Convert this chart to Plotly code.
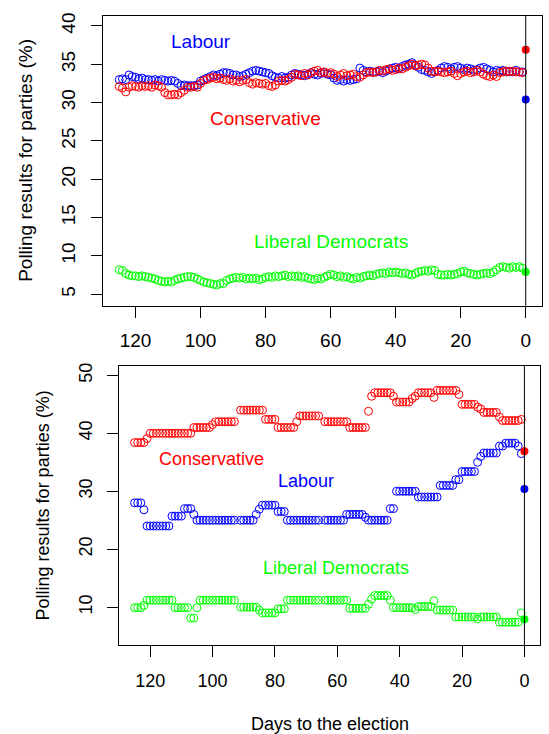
import plotly.graph_objects as go

FONT = "Liberation Sans, Arial, sans-serif"

# ---------------- data: top panel (days 125 .. 1) ----------------
top_days = list(range(125, 0, -1))
top_labour = [
    33.0, 33.1, 33.0, 33.6, 33.4, 33.3, 33.1, 33.2, 33.0, 33.0,
    32.9, 33.0, 32.8, 33.0, 32.9, 32.8, 32.9, 32.8, 32.5, 32.2,
    32.3, 32.2, 32.2, 32.2, 32.3, 32.8, 33.0, 33.2, 33.4, 33.6,
    33.5, 33.7, 33.9, 33.9, 33.8, 33.6, 33.6, 33.4, 33.5, 33.7,
    33.9, 34.1, 34.2, 34.1, 34.0, 33.9, 33.8, 33.5, 33.3, 33.2,
    33.4, 33.2, 33.3, 33.6, 33.8, 33.7, 33.6, 33.5, 33.7, 33.9,
    33.7, 33.6, 33.8, 33.9, 33.7, 33.6, 33.2, 32.9, 33.0, 32.8,
    33.0, 32.9, 33.0, 33.1, 34.5, 34.2, 34.0, 34.1, 34.0, 34.0,
    34.1, 33.9, 34.1, 34.3, 34.5, 34.6, 34.4, 34.7, 34.9, 35.0,
    35.2, 34.9, 34.6, 34.3, 34.2, 34.0, 33.8, 34.0, 34.2, 34.5,
    34.7, 34.6, 34.4, 34.6, 34.7, 34.5, 34.3, 34.5, 34.4, 34.2,
    34.3, 34.5, 34.6, 34.4, 34.2, 34.0, 34.2, 34.1, 34.2, 34.0,
    34.1, 34.0, 34.2, 34.0, 34.0,
]
top_conservative = [
    32.1, 31.9, 31.4, 32.0, 32.2, 32.1, 32.0, 32.2, 32.1, 32.2,
    32.0, 32.3, 32.2, 32.0, 31.3, 31.0, 31.0, 31.1, 31.0, 31.3,
    31.6, 32.0, 32.0, 32.1, 32.0, 32.5, 32.9, 33.0, 33.2, 33.3,
    33.1, 33.2, 33.0, 32.9, 33.1, 32.8, 32.9, 32.7, 32.9, 33.0,
    32.6, 32.4, 32.6, 32.5, 32.4, 32.5, 32.2, 32.1, 32.3, 32.8,
    32.9, 32.8, 33.0, 33.3, 33.7, 33.6, 33.5, 33.8, 33.6, 33.9,
    34.1, 34.2, 33.9, 34.0, 33.8, 33.9, 33.7, 33.4, 33.6, 33.8,
    33.5, 33.6, 33.7, 33.4, 33.3, 33.6, 33.9, 34.0, 33.9, 34.0,
    34.2, 34.1, 34.3, 34.4, 34.2, 34.3, 34.5, 34.4, 34.6, 34.8,
    35.0, 34.8, 34.9, 35.0, 34.9, 34.5, 34.1, 34.0, 34.1, 34.0,
    33.9, 34.0, 34.1, 33.8, 33.5, 33.8, 34.0, 34.1, 33.9, 34.0,
    34.2, 34.0, 33.7, 33.5, 33.4, 33.6, 33.4, 33.9, 34.0, 34.1,
    34.0, 34.1, 34.0, 34.0, 33.9,
]
top_libdem = [
    8.2, 8.1, 7.7, 7.5, 7.4, 7.4, 7.3, 7.4, 7.3, 7.2,
    7.1, 7.0, 6.8, 6.7, 6.6, 6.7, 6.6, 6.8, 7.0, 7.1,
    7.2, 7.3, 7.3, 7.2, 7.0, 6.8, 6.6, 6.5, 6.4, 6.3,
    6.2, 6.4, 6.4, 6.8, 7.0, 7.1, 7.2, 7.1, 7.2, 7.0,
    7.1, 7.0, 7.1, 6.9, 7.0, 7.2, 7.3, 7.2, 7.4, 7.3,
    7.4, 7.5, 7.3, 7.4, 7.3, 7.4, 7.2, 7.3, 7.1, 7.0,
    6.9, 7.1, 7.0, 7.2, 7.4, 7.6, 7.5, 7.3, 7.4, 7.2,
    7.3, 7.1, 7.0, 7.2, 7.1, 7.3, 7.4, 7.5, 7.4, 7.6,
    7.7, 7.8, 7.7, 7.9, 7.8, 7.9, 7.8, 7.7, 7.8, 7.6,
    7.5, 7.7, 7.9, 8.0, 8.1, 8.0, 8.2, 8.1, 7.6, 7.5,
    7.5, 7.6, 7.5, 7.6, 7.7, 7.9, 8.0, 7.8, 7.7, 7.6,
    7.5, 7.6, 7.7, 7.8, 7.7, 7.9, 8.2, 8.5, 8.6, 8.5,
    8.4, 8.6, 8.5, 8.6, 8.4,
]

# ---------------- data: bottom panel (days 125 .. 1, no polls on 92 and 65) ----------------
bot_days = [d for d in range(125, 0, -1) if d not in (92, 65)]
bot_conservative = [
    38.4, 38.4, 38.4, 38.4, 39.1,
    40.0, 40.0, 40.0, 40.0, 40.0, 40.0, 40.0, 40.0, 40.0, 40.0,
    40.0, 40.0, 40.0, 40.0, 41.0, 41.0, 41.0, 41.0, 41.0, 41.0,
    41.5, 42.0, 42.0, 42.0, 42.0, 42.0, 42.0, 42.0,
    44.0, 44.0, 44.0, 44.0, 44.0, 44.0, 44.0, 44.0, 42.4, 42.4,
    42.4, 42.4, 41.0, 41.0, 41.0, 41.0, 41.0, 41.0, 42.0, 43.0,
    43.0, 43.0, 43.0, 43.0, 43.0, 43.0,
    42.0, 42.0, 42.0, 42.0, 42.0, 42.0, 42.0, 42.0, 41.0, 41.0,
    41.0, 41.0, 41.0, 41.0, 43.8, 46.4, 47.0, 47.0, 47.0, 47.0,
    47.0, 47.0, 46.4, 45.4, 45.4, 45.4, 45.4, 45.4, 46.0, 46.4,
    47.0, 47.0, 47.0, 47.0, 47.0, 46.2, 47.4, 47.4, 47.4, 47.4,
    47.4, 47.4, 47.4, 46.7, 45.0, 45.0, 45.0, 45.0, 45.0, 44.5,
    44.2, 43.6, 43.6, 43.6, 43.6, 43.6, 42.8, 42.2, 42.2, 42.2,
    42.2, 42.2, 42.2, 42.4,
]
bot_labour = [
    28.0, 28.0, 28.0, 26.8, 24.0,
    24.0, 24.0, 24.0, 24.0, 24.0, 24.0, 24.0, 25.7, 25.7, 25.7,
    25.7, 27.0, 27.0, 27.0, 26.0, 25.0, 25.0, 25.0, 25.0, 25.0,
    25.0, 25.0, 25.0, 25.0, 25.0, 25.0, 25.0, 25.0,
    25.0, 25.0, 25.0, 25.0, 25.0, 26.0, 26.9, 27.6, 27.6, 27.6,
    27.6, 27.6, 26.5, 26.5, 26.5, 25.0, 25.0, 25.0, 25.0, 25.0,
    25.0, 25.0, 25.0, 25.0, 25.0, 25.0,
    25.0, 25.0, 25.0, 25.0, 25.0, 25.0, 25.0, 26.0, 26.0, 26.0,
    26.0, 26.0, 26.0, 25.5, 25.0, 25.0, 25.0, 25.0, 25.0, 25.0,
    25.0, 27.0, 27.0, 30.0, 30.0, 30.0, 30.0, 30.0, 30.0, 30.0,
    29.0, 29.0, 29.0, 29.0, 29.0, 29.0, 29.0, 31.0, 31.0, 31.0,
    31.0, 31.0, 32.0, 32.0, 33.4, 33.4, 33.4, 33.4, 33.4, 35.0,
    36.0, 36.6, 36.6, 36.6, 36.6, 36.6, 37.8, 37.8, 38.3, 38.3,
    38.3, 38.3, 37.8, 36.5,
]
bot_libdem = [
    9.9, 9.9, 9.9, 10.3, 11.2,
    11.2, 11.2, 11.2, 11.2, 11.2, 11.2, 11.2, 11.2, 9.9, 9.9,
    9.9, 9.9, 9.9, 8.1, 8.1, 9.9, 11.2, 11.2, 11.2, 11.2,
    11.2, 11.2, 11.2, 11.2, 11.2, 11.2, 11.2, 11.2,
    10.0, 10.0, 10.0, 10.0, 10.0, 10.0, 9.5, 9.0, 9.0, 9.0,
    9.0, 9.0, 9.7, 9.7, 9.7, 11.2, 11.2, 11.2, 11.2, 11.2,
    11.2, 11.2, 11.2, 11.2, 11.2, 11.2,
    11.2, 11.2, 11.2, 11.2, 11.2, 11.2, 11.2, 11.2, 9.8, 9.8,
    9.8, 9.8, 9.8, 9.8, 10.5, 11.4, 12.0, 12.0, 12.0, 12.0,
    12.0, 11.2, 9.9, 9.9, 9.9, 9.9, 9.9, 9.9, 9.9, 9.6,
    10.1, 10.1, 10.1, 10.1, 10.1, 11.1, 9.5, 9.5, 9.5, 9.5,
    9.5, 9.5, 8.3, 8.3, 8.3, 8.3, 8.3, 8.3, 8.3, 8.0,
    8.3, 8.3, 8.3, 8.3, 8.3, 8.3, 7.4, 7.4, 7.4, 7.4,
    7.4, 7.4, 7.4, 9.0,
]

# election result (day 0)
result_day = [0]
result_conservative = [36.9]
result_labour = [30.4]
result_libdem = [7.9]

party_names = ["Labour", "Conservative", "Liberal Democrats"]
party_colors = ["#0000ff", "#ff0000", "#00ff00"]

x_ticks = [0, 20, 40, 60, 80, 100, 120]
top_y_ticks = [5, 10, 15, 20, 25, 30, 35, 40]
bot_y_ticks = [10, 20, 30, 40, 50]

W, H = 549, 734

fig = go.Figure()

def add_panel(days, series, results, xa, ya):
    for vals, col in zip(series, party_colors):
        fig.add_trace(go.Scatter(
            x=days, y=vals, mode="markers", xaxis=xa, yaxis=ya,
            marker=dict(symbol="circle-open", size=8, color=col, line=dict(width=1)),
            hoverinfo="skip"))
    for vals, col in zip(results, party_colors):
        fig.add_trace(go.Scatter(
            x=result_day, y=vals, mode="markers", xaxis=xa, yaxis=ya,
            marker=dict(symbol="circle", size=8, color=col, line=dict(width=0)),
            hoverinfo="skip"))

add_panel(top_days, [top_labour, top_conservative, top_libdem],
          [result_labour, result_conservative, result_libdem], "x", "y")
add_panel(bot_days, [bot_labour, bot_conservative, bot_libdem],
          [result_labour, result_conservative, result_libdem], "x2", "y2")

def px_x(p):
    return p / W

def px_y(p):
    return 1 - p / H

axis_common = dict(showgrid=False, zeroline=False, showline=True, mirror=True,
                   linecolor="black", linewidth=1, ticks="outside", tickcolor="black",
                   tickwidth=1, ticklen=11)

fig.update_layout(
    width=W, height=H, margin=dict(l=0, r=0, t=0, b=0),
    paper_bgcolor="white", plot_bgcolor="white", showlegend=False,
    font=dict(family=FONT, color="black"),
    xaxis=dict(domain=[px_x(103), px_x(542)], range=[130, -5], tickvals=x_ticks,
               anchor="y", tickfont=dict(size=19), ticklabelstandoff=6, **axis_common),
    yaxis=dict(domain=[px_y(304), px_y(13)], range=[3.5, 41.3], tickvals=top_y_ticks,
               anchor="x", tickangle=-90, tickfont=dict(size=19), ticklabelstandoff=8,
               **axis_common),
    xaxis2=dict(domain=[px_x(119), px_x(540)], range=[130, -5], tickvals=x_ticks,
                anchor="y2", tickfont=dict(size=18), ticklabelstandoff=8, **axis_common),
    yaxis2=dict(domain=[px_y(645), px_y(364)], range=[3.4, 51.7], tickvals=bot_y_ticks,
                anchor="x2", tickangle=-90, tickfont=dict(size=18), ticklabelstandoff=8,
                **axis_common),
)

# vertical line at election day
for xr, yr in (("x", "y domain"), ("x2", "y2 domain")):
    fig.add_shape(type="line", xref=xr, yref=yr, x0=0, x1=0, y0=0, y1=1,
                  line=dict(color="black", width=1))

# party labels
top_label_pos = [(100, 38.0), (80, 27.9), (60, 11.9)]
bot_label_pos = [(70, 31.7), (100.5, 35.5), (60.5, 16.7)]
for name, col, (lx, ly) in zip(party_names, party_colors, top_label_pos):
    fig.add_annotation(x=lx, y=ly, xref="x", yref="y", text=name, showarrow=False,
                       xanchor="center", yanchor="middle",
                       font=dict(size=19, color=col, family=FONT))
for name, col, (lx, ly) in zip(party_names, party_colors, bot_label_pos):
    fig.add_annotation(x=lx, y=ly, xref="x2", yref="y2", text=name, showarrow=False,
                       xanchor="center", yanchor="middle",
                       font=dict(size=18, color=col, family=FONT))

# axis titles
fig.add_annotation(x=px_x(26), y=px_y(158.5), xref="paper", yref="paper",
                   text="Polling results for parties (%)", textangle=-90, showarrow=False,
                   xanchor="center", yanchor="middle",
                   font=dict(size=19, family=FONT, color="black"))
fig.add_annotation(x=px_x(43), y=px_y(504.5), xref="paper", yref="paper",
                   text="Polling results for parties (%)", textangle=-90, showarrow=False,
                   xanchor="center", yanchor="middle",
                   font=dict(size=18, family=FONT, color="black"))
fig.add_annotation(x=px_x(329.5), y=px_y(724), xref="paper", yref="paper",
                   text="Days to the election", showarrow=False,
                   xanchor="center", yanchor="middle",
                   font=dict(size=18, family=FONT, color="black"))

fig.write_html("out.html", config={"displayModeBar": False},
               post_script="document.body.style.margin='0';document.body.style.overflow='hidden';")
